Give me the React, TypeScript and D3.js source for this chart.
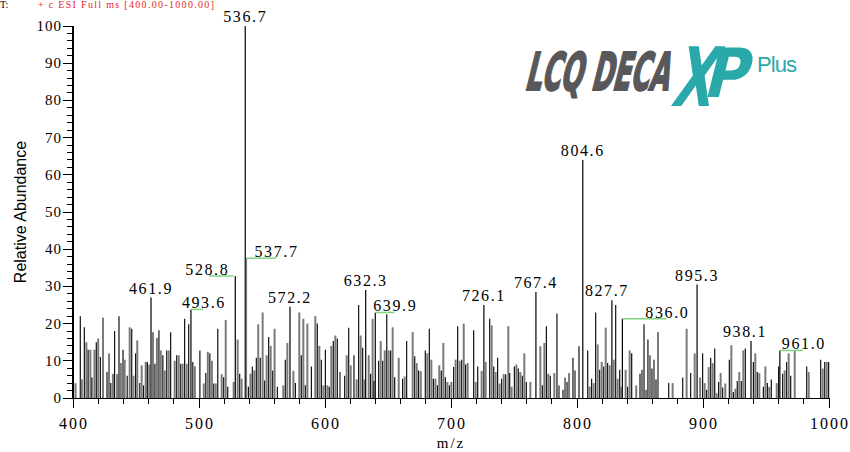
import React, { useEffect, useRef } from "react";
import * as d3 from "d3";

// peak list: m/z and relative abundance
const peakMz: number[] = [
  402, 405.8, 407, 409, 410.6, 412, 413.8, 415, 417, 418.5, 420, 421.7, 423.8, 427, 428.6, 430, 431.7, 433, 435, 436.5,
  438, 439.7, 441, 443, 445, 446.6, 448, 449.7, 451, 453, 454.5, 456, 457.7, 459, 460.5, 461.9, 463.5, 465, 466.6, 468.2,
  469.7, 471.3, 472.8, 474.4, 476, 477.5, 480.7, 482.3, 483.9, 485.5, 487, 488.6, 490.2, 491.8, 493.6, 495.1, 496.7, 500.7,
  503.8, 505.4, 507, 508.6, 510.2, 511.7, 513.3, 514.9, 518, 519.6, 521.2, 522.8, 527.5, 528.8, 530.7, 532.3, 533.8, 536.7,
  537.7, 539.2, 540.8, 542.3, 543.9, 545.5, 547, 548.6, 550.5, 552.1, 553.7, 555.3, 556.9, 558.5, 560, 562.2, 566.9, 568.5,
  570.1, 572.2, 574.9, 576.5, 579.6, 581.2, 582.8, 584.4, 586, 589.2, 592.3, 593.9, 595.5, 597.1, 598.7, 600.3, 601.9, 603.4,
  605, 606.6, 608.2, 609.8, 611.9, 615.6, 617.2, 618.8, 620.4, 623, 625.1, 626.7, 628.3, 629.9, 631.2, 632.3, 634.7, 636.2,
  637.8, 638.8, 639.9, 642.6, 644.2, 645.8, 647.4, 649, 650.5, 652.1, 653.7, 655.3, 658.5, 661.6, 663.2, 664.8, 669.6, 671.2,
  672.8, 674.3, 676, 679.6, 681.2, 682.8, 684.4, 686, 687.6, 689.2, 690.7, 692.3, 693.9, 695.5, 697.1, 698.7, 700.3, 702.1,
  703.7, 705.3, 706.9, 708.5, 710.1, 711.6, 713.2, 718, 719.6, 721.2, 724.3, 726.1, 727.5, 730.7, 732.3, 733.9, 735.4, 737,
  738.6, 740.2, 741.8, 743.4, 745.5, 746.6, 748.1, 750.3, 751.9, 753.4, 755, 756.6, 758.2, 759.8, 763, 767.4, 770.9, 772.5,
  774.1, 775.7, 777.2, 778.8, 782, 784.1, 785.7, 788.9, 790.5, 792.1, 793.7, 796.8, 798.4, 801.6, 804.6, 808.5, 810, 811.6,
  813.2, 814.8, 816.4, 818, 819.6, 821.2, 822.8, 824.3, 825.9, 827.7, 829.1, 830.7, 832.3, 833.9, 834.8, 836.0, 838.6, 840.2,
  841.8, 843.4, 847, 850, 851.6, 853.2, 854.8, 856.3, 857.9, 859.5, 861.1, 862.7, 864.3, 872.8, 875.9, 883.9, 887, 890.2,
  893.4, 895.3, 897.7, 899.7, 901.3, 902.9, 904.5, 906.1, 907.7, 909.3, 910.8, 912.4, 914, 915.6, 917.7, 920.9, 922.5, 924.1,
  925.7, 927.2, 928.8, 930.4, 932, 933.6, 938.1, 940, 941.5, 943.1, 944.7, 947.9, 949.5, 951.1, 952.6, 954.2, 958.5, 960,
  961.0, 963.2, 964.8, 966.4, 968, 969.6, 972.8, 982.3, 983.9, 993.4, 995, 996.6, 998.2, 999.7,
];

const peakAbundance: number[] = [
  4, 22, 5, 19, 15, 13, 13, 5.5, 13, 15, 16, 11, 21.6, 7, 12, 4, 6.5, 18, 6.4, 22,
  9.4, 13, 10.3, 6, 19, 18.6, 6, 12, 15.5, 4, 8.8, 3.4, 9.7, 9.7, 9, 27, 17.7, 9.2, 16.2, 18.2,
  12.8, 11.5, 7.4, 12.8, 12.8, 17.7, 10, 11.5, 11.5, 9.2, 9.2, 21.3, 9.2, 19.8, 23.8, 9.7, 8.5, 12.8,
  3.9, 6.7, 12.4, 12, 10, 3.9, 3.9, 18.6, 6.4, 5.6, 21, 3, 4.3, 32.8, 15.7, 6.5, 5.2, 100,
  37.6, 3, 6.5, 8.5, 7.4, 10.8, 19.8, 10.8, 23, 4.7, 11.5, 16.4, 14, 7.4, 18.6, 3, 3.4, 10.3,
  14.8, 24.5, 7.3, 4, 23, 11.5, 21.3, 3.4, 20, 8.5, 22, 20, 14, 10.3, 3.4, 13, 3.4, 3,
  14, 15.3, 16.8, 16, 7, 6, 11.5, 18.9, 8.8, 11.5, 5, 25, 16.8, 13.5, 5, 29, 11.5, 6.5,
  21.3, 4.6, 23, 10, 15.3, 10, 12.8, 22.5, 12.8, 12.8, 19, 5.6, 10.8, 5.2, 5.8, 15.3, 17.7, 11.2,
  9.4, 7.4, 7.2, 12.8, 12, 18.6, 10.3, 5.2, 5.2, 3.4, 8.8, 7.4, 14.8, 5.6, 4.3, 3.4, 4.3, 8.3,
  10.3, 19.3, 10, 10.3, 20, 9, 9.4, 18.2, 4.3, 8.5, 7.3, 25, 9.7, 21.3, 19.5, 8.5, 7, 10.8,
  3.9, 5.2, 6.4, 6.4, 19.3, 6.7, 3, 8.5, 9, 7.9, 7, 6, 12, 4.3, 4.3, 28.5, 13.9, 3.4,
  14.8, 19.3, 6.5, 6, 6.7, 22.7, 3.4, 2.2, 5.5, 4.3, 6.7, 10.8, 7.4, 13.9, 64, 12.8, 3.1, 5.2,
  4, 23, 14.4, 7.6, 9.7, 8.5, 18.9, 9.4, 8.8, 26.3, 10.3, 25, 5.2, 7.6, 3, 21.3, 7.6, 3,
  12.8, 12, 3.4, 6.5, 7.6, 19.8, 2.2, 15.7, 11.5, 7.9, 10.3, 5, 17.7, 4, 4, 5.5, 18.6, 6.7,
  12, 30.5, 5.5, 12, 4, 2.2, 8.3, 10.8, 9.4, 13.3, 1.3, 4.3, 6.7, 2.8, 3.9, 10.3, 14.2, 1.6,
  2.5, 4.6, 7, 4.6, 12.8, 13.3, 15.3, 9.7, 12, 7, 6.7, 3, 8.5, 4, 3, 5, 4, 8.5,
  12.8, 6.5, 7.4, 9.7, 12, 6, 12.8, 8.5, 7, 10.3, 7.9, 9.7, 9.7, 9.7,
];

// annotated peaks
const labelMz: number[] = [461.9, 493.6, 528.8, 536.7, 537.7, 572.2, 632.3, 639.9, 726.1, 767.4, 804.6, 827.7, 836.0, 895.3, 938.1, 961.0];

const xTicks: number[] = [400, 500, 600, 700, 800, 900, 1000];
const yTicks: number[] = [0, 10, 20, 30, 40, 50, 60, 70, 80, 90, 100];

// label placement: text offset from the peak, optional green marker [from, to]
const labelLayout: Record<string, { dx: number; anchor: string; mark?: [number, number] }> = {
  "493.6": { dx: -9, anchor: "start", mark: [0, 12] },
  "528.8": { dx: -50, anchor: "start", mark: [-26, -2] },
  "537.7": { dx: 8, anchor: "start", mark: [0, 30] },
  "639.9": { dx: -2, anchor: "start", mark: [0, 19] },
  "836.0": { dx: 23, anchor: "start", mark: [0, 44] },
  "961.0": { dx: 2, anchor: "start", mark: [0, 23] },
  "827.7": { dx: -5, anchor: "middle" },
  "938.1": { dx: -6, anchor: "middle" },
};

export default function App() {
  const width = 850;
  const height = 452;
  const svgRef = useRef<SVGSVGElement>(null);

  useEffect(() => {
    const svg = d3.select(svgRef.current);
    svg.selectAll("*").remove();

    const x = d3.scaleLinear().domain([400, 1000]).range([73, 829]);
    const y = d3.scaleLinear().domain([0, 100]).range([398, 26]);
    const serif = "'Liberation Serif', 'Times New Roman', serif";

    const peaks = peakMz.map((m, i) => ({ mz: m, v: peakAbundance[i], i }));

    // scan header at the very top
    svg.append("text").attr("x", 0).attr("y", 8).attr("font-family", serif).attr("font-size", 10).text("T:");
    svg
      .append("text")
      .attr("x", 38)
      .attr("y", 8)
      .attr("font-family", serif)
      .attr("font-size", 10)
      .attr("fill", "#e8251f")
      .attr("textLength", 176)
      .text("+ c ESI Full ms [400.00-1000.00]");

    // sticks
    svg
      .append("g")
      .selectAll("line")
      .data(peaks)
      .enter()
      .append("line")
      .attr("x1", (d) => x(d.mz))
      .attr("x2", (d) => x(d.mz))
      .attr("y1", y(0))
      .attr("y2", (d) => y(d.v))
      .attr("stroke", (d) => (labelMz.includes(d.mz) && d.mz !== 537.7 ? "#000" : d.i % 2 ? "#111" : "#7a7a7a"))
      .attr("stroke-width", (d) => (d.i % 2 || labelMz.includes(d.mz) ? 1.2 : 2));

    // axes
    const axes = svg.append("g").attr("stroke", "#000").attr("shape-rendering", "crispEdges");
    axes.append("line").attr("x1", x(400)).attr("x2", x(1000)).attr("y1", y(0) + 0.5).attr("y2", y(0) + 0.5).attr("stroke-width", 1.5);
    axes.append("line").attr("x1", x(400)).attr("x2", x(400)).attr("y1", y(0)).attr("y2", y(100)).attr("stroke-width", 1.5);

    axes
      .selectAll(".xt")
      .data(d3.range(400, 1001, 20))
      .enter()
      .append("line")
      .attr("x1", (d) => x(d))
      .attr("x2", (d) => x(d))
      .attr("y1", y(0))
      .attr("y2", (d) => y(0) + (d % 100 === 0 ? 10 : 6));

    axes
      .selectAll(".yt")
      .data(d3.range(0, 101, 2))
      .enter()
      .append("line")
      .attr("x1", x(400))
      .attr("x2", (d) => x(400) - (d % 10 === 0 ? 10 : 6))
      .attr("y1", (d) => y(d))
      .attr("y2", (d) => y(d));

    svg
      .append("g")
      .selectAll("text")
      .data(xTicks)
      .enter()
      .append("text")
      .attr("x", (d) => x(d) + 1)
      .attr("y", 429)
      .attr("text-anchor", "middle")
      .attr("font-family", serif)
      .attr("font-size", 16)
      .attr("letter-spacing", 2)
      .text((d) => d);

    svg
      .append("g")
      .selectAll("text")
      .data(yTicks)
      .enter()
      .append("text")
      .attr("x", 62)
      .attr("y", (d) => y(d) + 5)
      .attr("text-anchor", "end")
      .attr("font-family", serif)
      .attr("font-size", 15)
      .attr("letter-spacing", 1)
      .text((d) => d);

    svg
      .append("text")
      .attr("x", 451)
      .attr("y", 448)
      .attr("text-anchor", "middle")
      .attr("font-family", serif)
      .attr("font-size", 15)
      .attr("letter-spacing", 2)
      .text("m/z");

    svg
      .append("text")
      .attr("transform", `translate(26,${y(50)}) rotate(-90)`)
      .attr("text-anchor", "middle")
      .attr("font-family", "'Liberation Sans', Arial, sans-serif")
      .attr("font-size", 16)
      .text("Relative Abundance");

    // peak labels
    const lab = svg.append("g");
    labelMz.forEach((m) => {
      const txt = m.toFixed(1);
      const v = peakAbundance[peakMz.indexOf(m)];
      const px = x(m);
      const py = y(v);
      const lay = labelLayout[txt];
      if (lay && lay.mark) {
        lab
          .append("line")
          .attr("x1", px + lay.mark[0])
          .attr("x2", px + lay.mark[1])
          .attr("y1", py)
          .attr("y2", py)
          .attr("stroke", "#7ed67e")
          .attr("stroke-width", 1.5);
      }
      lab
        .append("text")
        .attr("x", px + (lay ? lay.dx : 0))
        .attr("y", lay && lay.mark ? py - 1 : py - 4)
        .attr("text-anchor", lay ? lay.anchor : "middle")
        .attr("font-family", serif)
        .attr("font-size", 16)
        .attr("letter-spacing", 1.6)
        .text(txt);
    });

    // instrument logo
    const logo = svg.append("g");
    logo
      .append("text")
      .attr("transform", "translate(524,90) skewX(-14)")
      .attr("font-family", "'DejaVu Sans Condensed', 'DejaVu Sans', sans-serif")
      .attr("font-weight", "bold")
      .attr("font-size", 52)
      .attr("fill", "#58585b")
      .attr("stroke", "#58585b")
      .attr("stroke-width", 2)
      .attr("textLength", 144)
      .attr("lengthAdjust", "spacingAndGlyphs")
      .text("LCQ DECA");
    logo
      .append("text")
      .attr("transform", "translate(670,106) skewX(-16)")
      .attr("font-family", "'DejaVu Sans', sans-serif")
      .attr("font-weight", "bold")
      .attr("font-size", 82)
      .attr("fill", "#2aa9aa")
      .attr("textLength", 40)
      .attr("lengthAdjust", "spacingAndGlyphs")
      .text("X");
    logo
      .append("text")
      .attr("transform", "translate(702,97) skewX(-14)")
      .attr("font-family", "'DejaVu Sans', sans-serif")
      .attr("font-weight", "bold")
      .attr("font-size", 68)
      .attr("fill", "#2aa9aa")
      .attr("textLength", 44)
      .attr("lengthAdjust", "spacingAndGlyphs")
      .text("P");
    logo
      .append("text")
      .attr("x", 757)
      .attr("y", 72)
      .attr("font-family", "'Liberation Sans', Arial, sans-serif")
      .attr("font-size", 22)
      .attr("fill", "#2aa9aa")
      .attr("textLength", 40)
      .text("Plus");
  }, []);

  return (
    <svg
      ref={svgRef}
      width={width}
      height={height}
      style={{ position: "absolute", left: 0, top: 0, background: "#fff" }}
    ></svg>
  );
}
